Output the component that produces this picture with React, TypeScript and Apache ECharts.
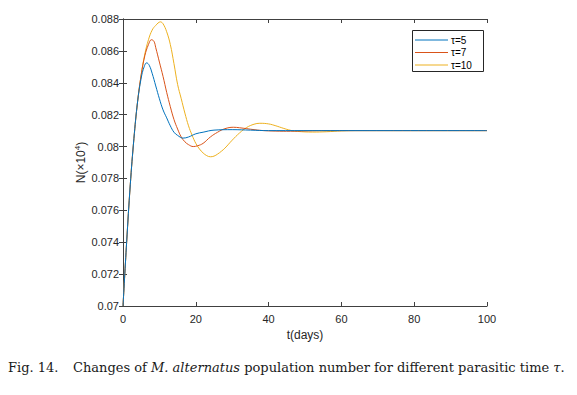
import React, { useEffect, useRef } from "react";
import * as echarts from "echarts";

// time (days) and N values for each parasitic time tau
const tBlue = [0, 1, 2, 3, 4, 5, 5.8, 6.5, 7.2, 8, 9, 10, 11, 12, 13, 14, 15, 16.5, 18, 20, 22, 25, 30, 35, 40, 100];
const nBlue = [0.07, 0.074, 0.0776, 0.0805, 0.0828, 0.0843, 0.085, 0.08525, 0.0851, 0.0846, 0.0838, 0.083, 0.0823, 0.0818, 0.0813, 0.0809, 0.0807, 0.08053, 0.0806, 0.0808, 0.0809, 0.08103, 0.08106, 0.08103, 0.081, 0.081];

const tRed = [0, 1, 2, 3, 4, 5, 6, 7, 7.8, 8.5, 9, 10, 11, 12, 13, 14, 15, 16, 17, 18, 19.3, 20.5, 22, 24, 26, 28, 30.3, 32, 34, 36, 38, 42, 46, 50, 55, 100];
const nRed = [0.07, 0.074, 0.0776, 0.0805, 0.0828, 0.0845, 0.0857, 0.0864, 0.0867, 0.0866, 0.0862, 0.0853, 0.0844, 0.0834, 0.0825, 0.0817, 0.0811, 0.0806, 0.0803, 0.08012, 0.08, 0.08005, 0.0802, 0.0806, 0.0809, 0.08112, 0.08121, 0.08118, 0.08112, 0.08106, 0.08101, 0.08097, 0.08096, 0.08098, 0.081, 0.081];

const tYellow = [0, 1, 2, 3, 4, 5, 6, 7, 8, 9, 10.3, 11, 12, 13, 14, 15, 16, 17, 18, 19, 20, 21, 22, 23, 24, 25, 26, 27, 28, 30, 32, 34, 36, 37.6, 40, 42, 44, 46, 48, 52, 56, 60, 65, 100];
const nYellow = [0.07, 0.074, 0.0776, 0.0805, 0.0828, 0.0845, 0.0858, 0.0867, 0.0873, 0.0876, 0.08782, 0.0877, 0.0872, 0.0864, 0.0852, 0.0839, 0.083, 0.0821, 0.0813, 0.0807, 0.0802, 0.07985, 0.0796, 0.07943, 0.07936, 0.0794, 0.07953, 0.0797, 0.0799, 0.0804, 0.08085, 0.0812, 0.0814, 0.08146, 0.08142, 0.0813, 0.08115, 0.08102, 0.08095, 0.08091, 0.08093, 0.08098, 0.081, 0.081];

const seriesNames = ["τ=5", "τ=7", "τ=10"];
const seriesColors = ["#0072BD", "#D95319", "#EDB120"];
const xTicks = { min: 0, max: 100, interval: 20 };
const yTicks = { min: 0.07, max: 0.088, interval: 0.002 };

const zip = (t: number[], n: number[]) => t.map((x, i) => [x, n[i]]);

const SANS = "'Liberation Sans', Arial, Helvetica, sans-serif";
const SERIF = "'DejaVu Serif', serif";
const AX = "#404040";

export default function App() {
  const ref = useRef<HTMLDivElement>(null);
  useEffect(() => {
    if (!ref.current) return;
    const chart = echarts.init(ref.current, null, { renderer: "svg" });
    const baseX = {
      type: "value" as const,
      min: xTicks.min,
      max: xTicks.max,
      interval: xTicks.interval,
      axisLine: { show: true, lineStyle: { color: AX, width: 1 } },
      axisTick: { show: true, inside: true, length: 4, lineStyle: { color: AX } },
      splitLine: { show: false },
    };
    const baseY = {
      type: "value" as const,
      min: yTicks.min,
      max: yTicks.max,
      interval: yTicks.interval,
      axisLine: { show: true, lineStyle: { color: AX, width: 1 } },
      axisTick: { show: true, inside: true, length: 4, lineStyle: { color: AX } },
      splitLine: { show: false },
    };
    const data = [zip(tBlue, nBlue), zip(tRed, nRed), zip(tYellow, nYellow)];

    // legend drawn as graphic: box + sample lines + labels
    const legendRows = [40, 52.5, 65];
    const legendGraphics: any[] = [
      {
        type: "rect",
        shape: { x: 412.5, y: 30.5, width: 71, height: 41 },
        style: { fill: "#ffffff", stroke: "#262626", lineWidth: 1 },
        z: 10,
      },
    ];
    seriesNames.forEach((name, i) => {
      legendGraphics.push({
        type: "line",
        shape: { x1: 415, y1: legendRows[i], x2: 448, y2: legendRows[i] },
        style: { stroke: seriesColors[i], lineWidth: 1 },
        z: 11,
      });
      legendGraphics.push({
        type: "text",
        x: 451,
        y: legendRows[i],
        style: { text: name, fontSize: 10, fontFamily: SANS, fill: "#000", verticalAlign: "middle" },
        z: 11,
      });
    });

    chart.setOption({
      animation: false,
      backgroundColor: "#ffffff",
      grid: { left: 123, right: 90, top: 19, bottom: 89, containLabel: false },
      xAxis: [
        {
          ...baseX,
          position: "bottom",
          axisLabel: { show: true, margin: 7, fontSize: 11, color: "#262626", fontFamily: SANS },
          name: "t(days)",
          nameLocation: "middle",
          nameGap: 23,
          nameTextStyle: { fontSize: 12, color: "#262626", fontFamily: SANS },
        },
        { ...baseX, position: "top", axisLabel: { show: false } },
      ],
      yAxis: [
        {
          ...baseY,
          position: "left",
          axisLabel: {
            show: true,
            margin: 4,
            fontSize: 11,
            color: "#262626",
            fontFamily: SANS,
            formatter: (v: number) => String(parseFloat(v.toFixed(3))),
          },
        },
        { ...baseY, position: "right", axisLabel: { show: false } },
      ],
      series: data.map((d, i) => ({
        name: seriesNames[i],
        type: "line",
        xAxisIndex: 0,
        yAxisIndex: 0,
        data: d,
        symbol: "none",
        smooth: 0.4,
        lineStyle: { color: seriesColors[i], width: 1 },
        itemStyle: { color: seriesColors[i] },
        z: 3 - i,
      })),
      graphic: [
        ...legendGraphics,
        {
          type: "text",
          x: 80,
          y: 162.5,
          rotation: Math.PI / 2,
          style: {
            text: "{a|N(×10}{s|4}{a|)}",
            align: "center",
            verticalAlign: "middle",
            rich: {
              a: { fontSize: 12, fontFamily: SANS, fill: "#262626", lineHeight: 14, verticalAlign: "bottom" },
              s: { fontSize: 8, fontFamily: SANS, fill: "#262626", lineHeight: 8, verticalAlign: "top" },
            },
          },
        },
        {
          type: "text",
          x: 8,
          y: 367,
          style: {
            text: "Fig. 14.",
            fontSize: 13,
            fontFamily: SERIF,
            fill: "#1a1a1a",
            verticalAlign: "middle",
          },
        },
        {
          type: "text",
          x: 73,
          y: 367,
          style: {
            text: "{r|Changes of }{i|M. alternatus}{r| population number for different parasitic time }{i|τ}{r|.}",
            verticalAlign: "middle",
            rich: {
              r: { fontSize: 13, fontFamily: SERIF, fill: "#1a1a1a" },
              i: { fontSize: 13, fontFamily: SERIF, fontStyle: "italic", fill: "#1a1a1a" },
            },
          },
        },
      ],
    });
    return () => chart.dispose();
  }, []);
  return <div ref={ref} style={{ width: 577, height: 395, margin: "-8px 0 0 -8px" }} />;
}
